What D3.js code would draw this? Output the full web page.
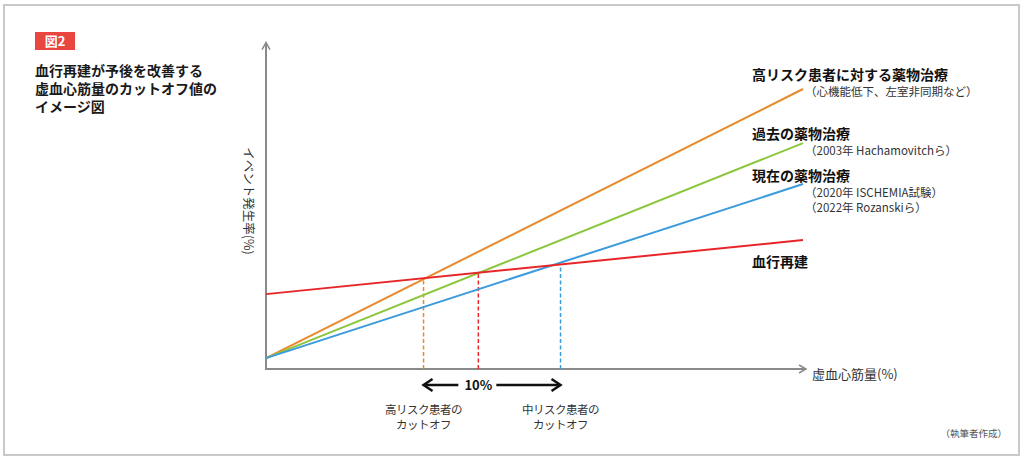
<!DOCTYPE html>
<html>
<head>
<meta charset="utf-8">
<script src="https://cdn.jsdelivr.net/npm/d3@7"></script>
<style>
  body { margin: 0; background: #fff; }
  svg text { font-family: "Noto Sans CJK JP", "Noto Sans", sans-serif; }
</style>
</head>
<body>
<svg id="chart" width="1024" height="459"></svg>
<script>
// line data: event rate at 0% and at right end of ischemia axis
const lineNames = ["高リスク患者に対する薬物治療", "過去の薬物治療", "現在の薬物治療", "血行再建"]
const startRates = [3.4, 3.4, 3.4, 23.4]
const endRates = [87.5, 70.6, 57.8, 40.3]
const lineColors = ["#e8892c", "#8cc63f", "#3b9bdc", "#e8262a"]
const xMax = 39.2

const subNotes = [["（心機能低下、左室非同期など）"], ["（2003年 Hachamovitchら）"], ["（2020年 ISCHEMIA試験）", "（2022年 Rozanskiら）"], []]

// cutoffs where medical therapy lines cross revascularization
const cutoffValues = [11.5, 15.5, 21.5]
const cutoffColors = ["#e8892c", "#e8262a", "#3b9bdc"]
const cutoffLabels = [["高リスク患者の", "カットオフ"], [], ["中リスク患者の", "カットオフ"]]

const titleLines = ["血行再建が予後を改善する", "虚血心筋量のカットオフ値の", "イメージ図"]

const svg = d3.select("#chart")

var x = d3.scaleLinear().domain([0, xMax]).range([266, 803])
var y = d3.scaleLinear().domain([0, 100]).range([369, 49])

// frame
svg.append("rect")
    .attr("x", 4).attr("y", 5).attr("width", 1015).attr("height", 450)
    .attr("fill", "none").attr("stroke", "#c9c9c9").attr("stroke-width", 2)

// figure tag
svg.append("rect").attr("x", 35).attr("y", 32).attr("width", 40).attr("height", 18).attr("fill", "#e8463f")
svg.append("text").attr("x", 55).attr("y", 46).attr("text-anchor", "middle")
    .attr("fill", "#fff").attr("font-size", 13).attr("font-weight", "bold").text("図2")

svg.selectAll(".title").data(titleLines).enter()
    .append("text").attr("class", "title")
    .attr("x", 35).attr("y", (d, i) => 76 + i * 18)
    .attr("font-size", 14).attr("font-weight", "bold").attr("fill", "#1a1a1a")
    .text(d => d)

// axes
const axisColor = "#8a8a8a"
svg.append("path")
    .attr("d", d3.line()([[x(0), y(102)], [x(0), y(0)], [x(xMax) + 3, y(0)]]))
    .attr("fill", "none").attr("stroke", axisColor).attr("stroke-width", 2)
svg.append("path")
    .attr("d", d3.line()([[x(0) - 4, y(102) + 7], [x(0), y(102)], [x(0) + 4, y(102) + 7]]))
    .attr("fill", "none").attr("stroke", axisColor).attr("stroke-width", 1.5)
svg.append("path")
    .attr("d", d3.line()([[x(xMax) - 4, y(0) - 4], [x(xMax) + 3, y(0)], [x(xMax) - 4, y(0) + 4]]))
    .attr("fill", "none").attr("stroke", axisColor).attr("stroke-width", 1.5)

svg.append("text")
    .attr("transform", "translate(244," + 201 + ") rotate(90)")
    .attr("text-anchor", "middle").attr("font-size", 12.5).attr("fill", "#333")
    .text("イベント発生率(%)")
svg.append("text").attr("x", 812).attr("y", 379)
    .attr("font-size", 13).attr("fill", "#333").text("虚血心筋量(%)")

// red line lookup for cutoff heights
var revasc = d3.scaleLinear().domain([0, xMax]).range([startRates[3], endRates[3]])

svg.selectAll(".cutoff").data(cutoffValues).enter()
    .append("line").attr("class", "cutoff")
    .attr("x1", d => x(d)).attr("x2", d => x(d))
    .attr("y1", y(0)).attr("y2", d => y(revasc(d)))
    .attr("stroke", (d, i) => cutoffColors[i])
    .attr("stroke-width", 1.5).attr("stroke-dasharray", "4,2.5")

// lines
svg.selectAll(".trend").data(lineNames).enter()
    .append("line").attr("class", "trend")
    .attr("x1", x(0)).attr("y1", (d, i) => y(startRates[i]))
    .attr("x2", x(xMax)).attr("y2", (d, i) => y(endRates[i]))
    .attr("stroke", (d, i) => lineColors[i]).attr("stroke-width", 2)

// line labels
const labelY = [80, 139, 181, 267]
lineNames.forEach((name, i) => {
    svg.append("text").attr("x", 752).attr("y", labelY[i])
        .attr("font-size", 14).attr("font-weight", "bold").attr("fill", "#111").text(name)
    subNotes[i].forEach((t, j) => {
        svg.append("text").attr("x", 805).attr("y", labelY[i] + 16 + j * 15)
            .attr("font-size", 11.5).attr("fill", "#333").text(t)
    })
})

// 10% arrow between high and mid risk cutoffs
const ay = 385
const labelX = x(cutoffValues[1])
svg.append("path")
    .attr("d", d3.line()([[x(cutoffValues[0]) + 2, ay], [labelX - 20, ay]]))
    .attr("stroke", "#111").attr("stroke-width", 2.5)
svg.append("path")
    .attr("d", d3.line()([[labelX + 18, ay], [x(cutoffValues[2]) - 2, ay]]))
    .attr("stroke", "#111").attr("stroke-width", 2.5)
svg.append("path")
    .attr("d", d3.line()([[x(cutoffValues[0]) + 9, ay - 6], [x(cutoffValues[0]), ay], [x(cutoffValues[0]) + 9, ay + 6]]))
    .attr("fill", "none").attr("stroke", "#111").attr("stroke-width", 2.5)
svg.append("path")
    .attr("d", d3.line()([[x(cutoffValues[2]) - 9, ay - 6], [x(cutoffValues[2]), ay], [x(cutoffValues[2]) - 9, ay + 6]]))
    .attr("fill", "none").attr("stroke", "#111").attr("stroke-width", 2.5)
svg.append("text").attr("x", labelX).attr("y", ay + 5).attr("text-anchor", "middle")
    .attr("font-size", 13).attr("font-weight", "bold").attr("fill", "#111").text("10%")

cutoffValues.forEach((v, i) => {
    cutoffLabels[i].forEach((t, j) => {
        svg.append("text").attr("x", x(v)).attr("y", 414 + j * 15).attr("text-anchor", "middle")
            .attr("font-size", 11.5).attr("fill", "#333").attr("letter-spacing", -0.5).text(t)
    })
})

svg.append("text").attr("x", 1007).attr("y", 437).attr("text-anchor", "end")
    .attr("font-size", 9.5).attr("fill", "#555").text("（執筆者作成）")
</script>
</body>
</html>
